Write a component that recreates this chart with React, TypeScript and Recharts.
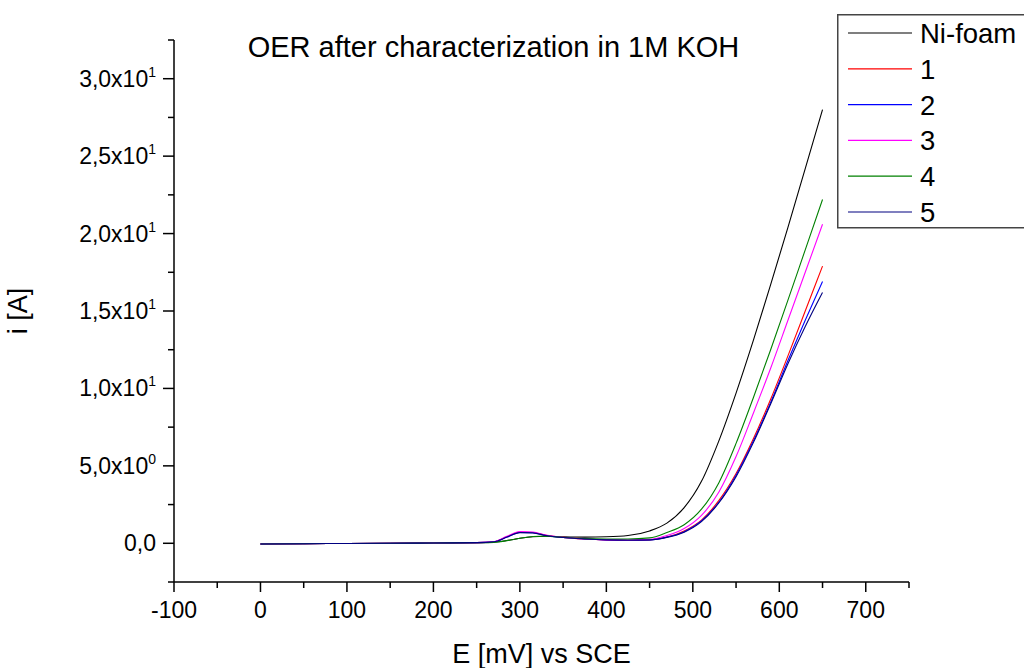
import React from 'react';
import { LineChart, Line, XAxis, YAxis, Legend } from 'recharts';

const potentials = [0, 50, 100, 150, 200, 250, 270, 285, 300, 315, 330, 350, 375, 400, 425, 450, 470, 490, 510, 530, 550, 570, 590, 610, 630, 650];
const niFoam = [-0.05, -0.03, -0.01, 0.0, 0.02, 0.04, 0.07, 0.18, 0.32, 0.42, 0.45, 0.42, 0.4, 0.42, 0.5, 0.8, 1.3, 2.3, 4.0, 6.6, 9.7, 13.1, 16.7, 20.4, 24.2, 28.0];
const sample1 = [-0.05, -0.03, -0.01, 0.0, 0.02, 0.04, 0.1, 0.42, 0.73, 0.7, 0.52, 0.38, 0.28, 0.22, 0.2, 0.22, 0.4, 0.8, 1.5, 2.75, 4.5, 6.75, 9.3, 12.1, 15.0, 17.9];
const sample2 = [-0.05, -0.03, -0.01, 0.0, 0.02, 0.04, 0.1, 0.4, 0.7, 0.68, 0.5, 0.37, 0.28, 0.22, 0.2, 0.22, 0.4, 0.75, 1.45, 2.65, 4.4, 6.6, 9.1, 11.8, 14.4, 16.9];
const sample3 = [-0.05, -0.03, -0.01, 0.0, 0.02, 0.04, 0.1, 0.45, 0.76, 0.72, 0.54, 0.38, 0.28, 0.22, 0.2, 0.25, 0.5, 0.95, 1.8, 3.3, 5.6, 8.4, 11.3, 14.4, 17.5, 20.6];
const sample4 = [-0.05, -0.03, -0.01, 0.0, 0.02, 0.04, 0.06, 0.17, 0.32, 0.44, 0.46, 0.38, 0.3, 0.28, 0.28, 0.35, 0.7, 1.2, 2.2, 3.9, 6.45, 9.4, 12.5, 15.7, 18.95, 22.2];
const sample5 = [-0.05, -0.03, -0.01, 0.0, 0.02, 0.04, 0.1, 0.4, 0.69, 0.67, 0.5, 0.37, 0.28, 0.22, 0.2, 0.22, 0.38, 0.72, 1.4, 2.6, 4.3, 6.5, 9.0, 11.6, 14.0, 16.2];

const seriesKeys = ['niFoam', 's1', 's2', 's3', 's4', 's5'];
const seriesNames = ['Ni-foam', '1', '2', '3', '4', '5'];
const seriesColors = ['#000000', '#ff0000', '#0000ff', '#ff00ff', '#008000', '#000080'];
const seriesValues = [niFoam, sample1, sample2, sample3, sample4, sample5];

const xTicks = [-100, -50, 0, 50, 100, 150, 200, 250, 300, 350, 400, 450, 500, 550, 600, 650, 700, 750];
const xMajorTicks = [-100, 0, 100, 200, 300, 400, 500, 600, 700];
const yTicks = [-2.5, 0, 2.5, 5, 7.5, 10, 12.5, 15, 17.5, 20, 22.5, 25, 27.5, 30, 32.5];
const yMajorValues = [0, 5, 10, 15, 20, 25, 30];
const yMantissa = ['0,0', '5,0x10', '1,0x10', '1,5x10', '2,0x10', '2,5x10', '3,0x10'];
const yExponent = ['', '0', '1', '1', '1', '1', '1'];

const chartTitle = 'OER after characterization in 1M KOH';
const xTitle = 'E [mV] vs SCE';
const yTitle = 'i [A]';

const FONT = 'Arial, "Liberation Sans", sans-serif';

const data = potentials.map((e, i) => {
  const row: Record<string, number> = { e };
  seriesKeys.forEach((k, j) => {
    row[k] = seriesValues[j][i];
  });
  return row;
});

const XTick = (props: any) => {
  const { x, y, payload } = props;
  const v = payload.value;
  const major = xMajorTicks.includes(v);
  return (
    <g>
      <line x1={x} x2={x} y1={y} y2={y + (major ? 10 : 6)} stroke="#000" strokeWidth={1.5} />
      {major && (
        <text x={x} y={y + 36} textAnchor="middle" fontSize={23} fontFamily={FONT} fill="#000">
          {v}
        </text>
      )}
    </g>
  );
};

const YTick = (props: any) => {
  const { x, y, payload } = props;
  const v = payload.value;
  const idx = yMajorValues.indexOf(v);
  const major = idx >= 0;
  return (
    <g>
      <line x1={x} x2={x - (major ? 11 : 6)} y1={y} y2={y} stroke="#000" strokeWidth={1.5} />
      {major && (
        <text x={x - 18} y={y + 8} textAnchor="end" fontSize={23} fontFamily={FONT} fill="#000">
          <tspan>{yMantissa[idx]}</tspan>
          {yExponent[idx] !== '' && (
            <tspan fontSize={14} dy={-10}>
              {yExponent[idx]}
            </tspan>
          )}
        </text>
      )}
    </g>
  );
};

const YLabel = (props: any) => {
  const vb = props.viewBox || {};
  const cx = 18;
  const cy = (vb.y || 0) + (vb.height || 0) / 2;
  return (
    <text
      x={cx}
      y={cy}
      transform={`rotate(-90 ${cx} ${cy})`}
      textAnchor="middle"
      dominantBaseline="central"
      fontSize={27}
      fontFamily={FONT}
      fill="#000"
    >
      {yTitle}
    </text>
  );
};

const XLabel = (props: any) => {
  const vb = props.viewBox || {};
  const cx = (vb.x || 0) + (vb.width || 0) / 2;
  const by = (vb.y || 0) + 81;
  return (
    <text x={cx} y={by} textAnchor="middle" fontSize={27} fontFamily={FONT} fill="#000">
      {xTitle}
    </text>
  );
};

const LegendBox = () => (
  <svg width={200} height={220} style={{ display: 'block', overflow: 'visible' }}>
    <rect x={0.75} y={0.75} width={210} height={213} fill="#fff" stroke="#444" strokeWidth={1.5} />
    {seriesNames.map((name, i) => {
      const cy = 19 + i * 35.8;
      return (
        <g key={name}>
          <line x1={11} x2={75} y1={cy} y2={cy} stroke={seriesColors[i]} strokeWidth={1.2} />
          <text x={83} y={cy + 10} fontSize={27.5} fontFamily={FONT} fill="#000">
            {name}
          </text>
        </g>
      );
    })}
  </svg>
);

export default function App() {
  return (
    <div style={{ position: 'absolute', left: 0, top: 0, width: 1024, height: 668, background: '#fff' }}>
      <div
        style={{
          position: 'absolute',
          left: 0,
          width: 987,
          textAlign: 'center',
          fontFamily: FONT,
          fontSize: 29,
          lineHeight: '32px',
          top: 31,
          color: '#000',
          zIndex: 2,
        }}
      >
        {chartTitle}
      </div>
      <LineChart width={1024} height={668} data={data} margin={{ top: 40, right: 115, bottom: 0, left: 0 }}>
        <XAxis
          dataKey="e"
          type="number"
          domain={[-100, 750]}
          ticks={xTicks}
          interval={0}
          tickSize={0}
          tickMargin={0}
          tickLine={false}
          tick={<XTick />}
          height={86}
          axisLine={{ stroke: '#000', strokeWidth: 1.5 }}
          allowDataOverflow
          label={<XLabel />}
        />
        <YAxis
          type="number"
          domain={[-2.5, 32.5]}
          ticks={yTicks}
          interval={0}
          tickSize={0}
          tickMargin={0}
          tickLine={false}
          tick={<YTick />}
          width={174}
          axisLine={{ stroke: '#000', strokeWidth: 1.5 }}
          allowDataOverflow
          label={<YLabel />}
        />
        <Legend
          layout="vertical"
          align="center"
          verticalAlign="middle"
          content={() => <LegendBox />}
          wrapperStyle={{ left: 837, top: 14, width: 200, height: 220 }}
        />
        {seriesKeys.map((k, i) => (
          <Line
            key={k}
            dataKey={k}
            name={seriesNames[i]}
            type="monotone"
            stroke={seriesColors[i]}
            strokeWidth={1.1}
            dot={false}
            activeDot={false}
            isAnimationActive={false}
          />
        ))}
      </LineChart>
    </div>
  );
}
